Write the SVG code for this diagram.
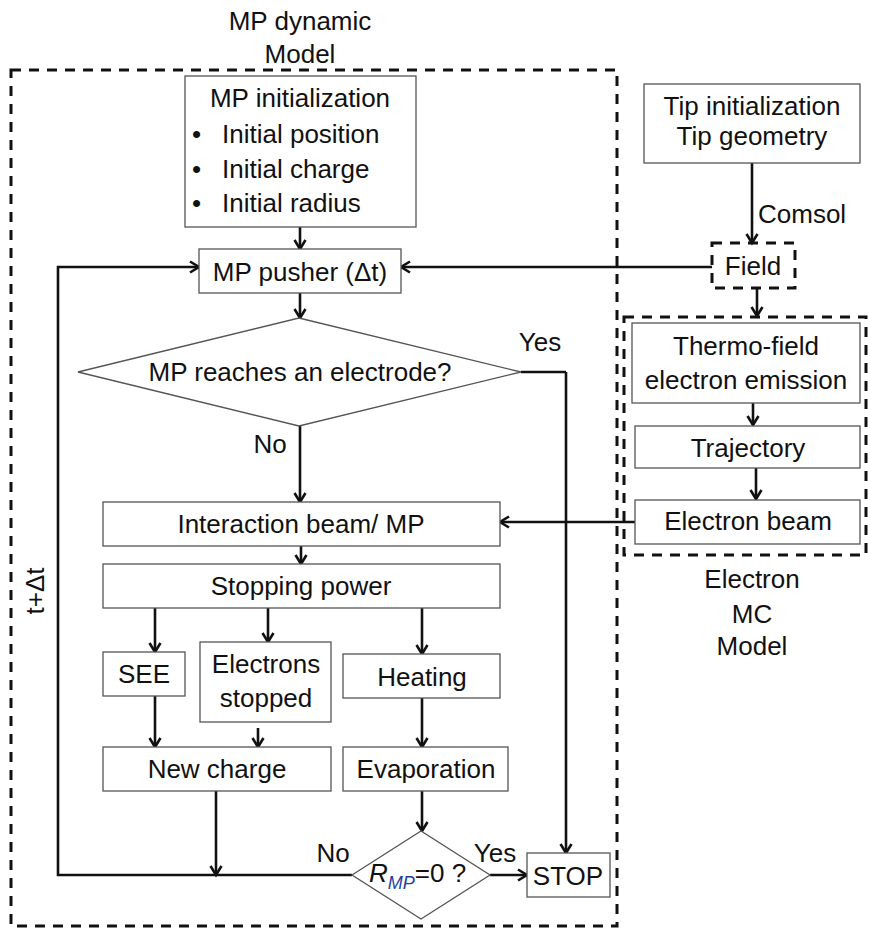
<svg xmlns="http://www.w3.org/2000/svg" width="869" height="929" viewBox="0 0 869 929">
<style>
text{font-family:"Liberation Sans",Arial,sans-serif;font-size:26px;fill:#111;}
.c{text-anchor:middle;}
.box{fill:#fff;stroke:#555;stroke-width:1.3;}
.dash{fill:none;stroke:#111;stroke-width:3;stroke-dasharray:10,8;}
.ln{fill:none;stroke:#111;stroke-width:2.6;}
.ar{fill:none;stroke:#111;stroke-width:2.6;marker-end:url(#ah);}
</style>
<defs>
<marker id="ah" markerUnits="userSpaceOnUse" markerWidth="14" markerHeight="14" refX="12" refY="7" orient="auto" overflow="visible">
<path d="M3,1.5 L12,7 L3,12.5" fill="none" stroke="#111" stroke-width="2.6"/>
</marker>
</defs>

<g id="mp-model-group">
<rect class="dash" x="11" y="70" width="606" height="856"/>
<text class="c" x="300" y="30">MP dynamic</text>
<text class="c" x="300" y="63">Model</text>
</g>
<g id="mc-model-group">
<rect class="dash" x="624" y="317" width="242" height="238"/>
<text class="c" x="752" y="588">Electron</text>
<text class="c" x="752" y="623">MC</text>
<text class="c" x="752" y="655">Model</text>
</g>

<g id="connectors">
<path class="ar" d="M300,227 V249"/>
<path class="ar" d="M300,293 V318"/>
<path class="ln" d="M521,372 H566"/>
<path class="ar" d="M566,372 V853"/>
<path class="ar" d="M300,426 V502"/>
<path class="ar" d="M301,546 V564"/>
<path class="ar" d="M155,608 V652"/>
<path class="ar" d="M268,608 V642"/>
<path class="ar" d="M422,608 V654"/>
<path class="ar" d="M155,696 V747"/>
<path class="ar" d="M258,728 V747"/>
<path class="ar" d="M422,698 V747"/>
<path class="ar" d="M216,791 V875"/>
<path class="ar" d="M422,791 V831"/>
<path class="ar" d="M352,875 H58 V267 H199"/>
<path class="ar" d="M490,875 H527"/>
<path class="ar" d="M752,163 V243"/>
<path class="ar" d="M712,267 H401"/>
<path class="ar" d="M757,288 V316"/>
<path class="ar" d="M753,403 V425"/>
<path class="ar" d="M756,468 V499"/>
<path class="ar" d="M635,522 H500"/>
<text x="758" y="223">Comsol</text>
<text class="c" x="540" y="351">Yes</text>
<text class="c" x="270" y="453">No</text>
<text class="c" x="333" y="862">No</text>
<text class="c" x="495" y="862">Yes</text>
<text class="c" transform="translate(44,591) rotate(-90)">t+Δt</text>
</g>

<g id="mp-init">
<rect class="box" x="185" y="76" width="231" height="151"/>
<text class="c" x="300" y="107">MP initialization</text>
<text x="192" y="143">•</text><text x="222" y="143">Initial position</text>
<text x="192" y="178">•</text><text x="222" y="178">Initial charge</text>
<text x="192" y="212">•</text><text x="222" y="212">Initial radius</text>
</g>
<g id="mp-pusher">
<rect class="box" x="199" y="249" width="202" height="44"/>
<text class="c" x="300" y="281">MP pusher (Δt)</text>
</g>
<g id="reaches-electrode">
<polygon class="box" points="78,372 299,318 521,372 299,426"/>
<text class="c" x="300" y="381">MP reaches an electrode?</text>
</g>
<g id="interaction">
<rect class="box" x="103" y="502" width="397" height="44"/>
<text class="c" x="301" y="533">Interaction beam/ MP</text>
</g>
<g id="stopping-power">
<rect class="box" x="103" y="564" width="397" height="44"/>
<text class="c" x="301" y="595">Stopping power</text>
</g>
<g id="see">
<rect class="box" x="103" y="652" width="82" height="44"/>
<text class="c" x="144" y="683">SEE</text>
</g>
<g id="electrons-stopped">
<rect class="box" x="200" y="642" width="131" height="80"/>
<text class="c" x="266" y="673">Electrons</text>
<text class="c" x="266" y="707">stopped</text>
</g>
<g id="heating">
<rect class="box" x="343" y="654" width="157" height="44"/>
<text class="c" x="422" y="686">Heating</text>
</g>
<g id="new-charge">
<rect class="box" x="103" y="747" width="228" height="44"/>
<text class="c" x="217" y="778">New charge</text>
</g>
<g id="evaporation">
<rect class="box" x="343" y="747" width="165" height="44"/>
<text class="c" x="426" y="778">Evaporation</text>
</g>
<g id="rmp-zero">
<polygon class="box" points="352,875 421,831 490,875 421,919"/>
<text x="369" y="882"><tspan font-style="italic">R</tspan><tspan font-style="italic" font-size="18" dy="7" fill="#1f3f9f">MP</tspan><tspan dy="-7">=0 ?</tspan></text>
</g>
<g id="stop">
<rect class="box" x="527" y="853" width="83" height="44"/>
<text class="c" x="568" y="885">STOP</text>
</g>
<g id="tip-init">
<rect class="box" x="644" y="84" width="216" height="79"/>
<text class="c" x="752" y="115">Tip initialization</text>
<text class="c" x="752" y="145">Tip geometry</text>
</g>
<g id="field">
<rect class="dash" x="712" y="243" width="83" height="45"/>
<text class="c" x="753" y="275">Field</text>
</g>
<g id="thermo-field">
<rect class="box" x="632" y="323" width="228" height="80"/>
<text class="c" x="746" y="355">Thermo-field</text>
<text class="c" x="746" y="389">electron emission</text>
</g>
<g id="trajectory">
<rect class="box" x="635" y="426" width="225" height="42"/>
<text class="c" x="748" y="457">Trajectory</text>
</g>
<g id="electron-beam">
<rect class="box" x="635" y="500" width="225" height="44"/>
<text class="c" x="748" y="530">Electron beam</text>
</g>
</svg>
